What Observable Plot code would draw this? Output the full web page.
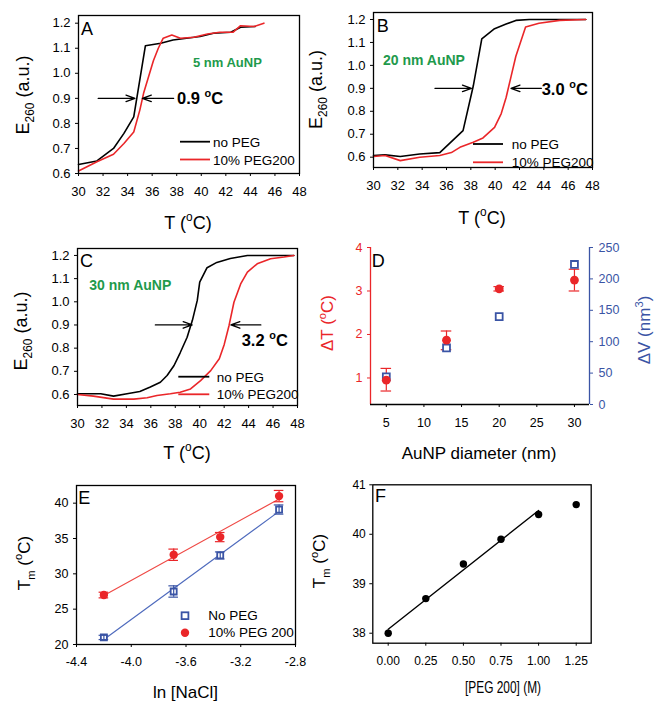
<!DOCTYPE html>
<html><head><meta charset="utf-8">
<script src="https://cdn.jsdelivr.net/npm/d3@7"></script>
<script src="https://cdn.jsdelivr.net/npm/@observablehq/plot@0.6"></script>
<style>
body{margin:0;background:#fff;}
#fig{position:relative;width:654px;height:702px;background:#fff;overflow:hidden;}
#fig svg{position:absolute;left:0;top:0;}
</style></head><body><div id="fig"></div>
<script>
// ---------- data ----------
const tTicks = [30,32,34,36,38,40,42,44,46,48];
const eTicks = [0.6,0.7,0.8,0.9,1.0,1.1,1.2];

const A_T_noPEG = [30, 31.5, 32.85, 33.7, 34.5, 35.45, 36.7, 37.7, 38.8, 39.9, 41, 42.4, 43.2, 44.4];
const A_E_noPEG = [0.636, 0.65, 0.70, 0.76, 0.826, 1.11, 1.12, 1.133, 1.14, 1.147, 1.16, 1.164, 1.184, 1.187];
const A_T_PEG = [30, 31.5, 32.85, 33.7, 34.5, 35.0, 35.3, 35.7, 36.1, 36.5, 36.9, 37.6, 38.3, 39.4, 40.5, 41.5, 42.6, 43.2, 44.3, 45.1];
const A_E_PEG = [0.61, 0.647, 0.677, 0.72, 0.766, 0.854, 0.92, 0.985, 1.05, 1.10, 1.14, 1.153, 1.14, 1.144, 1.157, 1.164, 1.164, 1.19, 1.187, 1.2];

const B_T_noPEG = [30, 30.95, 32.2, 33.8, 35.45, 37.36, 38.2, 38.9, 39.95, 40.9, 41.7, 42.8, 47.45];
const B_E_noPEG = [0.607, 0.61, 0.603, 0.614, 0.62, 0.716, 0.91, 1.116, 1.16, 1.18, 1.196, 1.2, 1.2];
const B_T_PEG = [30, 30.95, 32.2, 33.8, 35.45, 36.4, 37.1, 38.2, 39, 39.95, 40.5, 40.9, 41.3, 41.7, 42.5, 43.6, 45.3, 47.45];
const B_E_PEG = [0.603, 0.607, 0.585, 0.6, 0.607, 0.62, 0.643, 0.665, 0.684, 0.73, 0.79, 0.86, 0.95, 1.04, 1.167, 1.184, 1.196, 1.2];

const C_T_noPEG = [30, 31.3, 31.9, 32.95, 34.05, 35.1, 35.96, 36.78, 37.33, 37.9, 38.4, 38.97, 39.4, 39.8, 40.0, 40.6, 41.4, 42.5, 43.9, 47.7];
const C_E_noPEG = [0.603, 0.603, 0.603, 0.593, 0.603, 0.613, 0.632, 0.653, 0.682, 0.725, 0.78, 0.847, 0.92, 1.006, 1.085, 1.147, 1.17, 1.187, 1.2, 1.2];
const C_T_PEG = [30, 31.3, 32.95, 34.6, 35.7, 36.5, 37.6, 38.4, 39.25, 40.07, 40.9, 41.6, 42.0, 42.4, 42.8, 43.35, 43.9, 44.7, 45.8, 46.9, 47.7];
const C_E_PEG = [0.6, 0.593, 0.58, 0.58, 0.586, 0.596, 0.603, 0.61, 0.624, 0.66, 0.703, 0.754, 0.815, 0.898, 0.998, 1.077, 1.128, 1.164, 1.186, 1.193, 1.2];

// arrows (data coordinates): [from, to] at E = 0.9
const A_arrows = [[31.6, 34.6], [37.75, 35.2]];
const B_arrows = [[35.05, 38.05], [43.8, 41.3]];
const C_arrows = [[36.37, 39.38], [45.0, 42.55]];
const arrowE = 0.9;

// D
const D_diam = [5, 13, 20, 30];
const D_dT = [0.95, 1.87, 3.05, 3.25];
const D_dT_lo = [0.7, 1.65, 3.0, 3.0];
const D_dT_hi = [1.22, 2.08, 3.1, 3.5];
const D_dV = [44, 90, 140, 223];
const D_xTicks = [5,10,15,20,25,30];
const D_yTicks = [1,2,3,4];
const D_vTicks = [0,50,100,150,200,250];

// E
const E_lnNaCl = [-4.2, -3.69, -3.35, -2.92];
const E_noPEG = [21.0, 27.5, 32.6, 39.1];
const E_noPEG_err = [0.3, 0.8, 0.5, 0.65];
const E_PEG = [27.0, 32.7, 35.2, 41.0];
const E_PEG_err = [0.4, 0.8, 0.65, 0.8];
const E_xTicks = [-4.4, -4.0, -3.6, -3.2, -2.8];
const E_yTicks = [20,25,30,35,40];

// F
const F_peg = [0, 0.25, 0.5, 0.75, 1.0, 1.25];
const F_Tm = [38.0, 38.7, 39.4, 39.9, 40.4, 40.6];
const F_fitCount = 5;
const F_xTicks = [0, 0.25, 0.5, 0.75, 1.0, 1.25];
const F_yTicks = [38,39,40,41];

// ---------- helpers ----------
const W = 654, H = 702;
const FONT = '"Liberation Sans", Arial, Helvetica, sans-serif';
const RED = "#ea2629", BLUE = "#3a54a5", GREEN = "#1f9a4c", BLACK = "#000";
const fig = document.getElementById("fig");

const rows = (xs, ys) => xs.map((x, i) => ({x, y: ys[i]}));

function panel(frame, x, y, marks, fontSize) {
  const [x0, x1, y0, y1] = frame;
  const svg = Plot.plot({
    width: W, height: H,
    marginLeft: x0, marginRight: W - x1, marginTop: y0, marginBottom: H - y1,
    style: {background: "transparent", fontFamily: FONT, fontSize: fontSize + "px", color: "#000", overflow: "visible"},
    x: {...x, label: null}, y: {...y, label: null},
    marks
  });
  fig.appendChild(svg);
  return svg;
}

function txt(svg, x, y, parts, o = {}) {
  const s = o.size || 13;
  const t = d3.select(svg).append("text")
    .attr("font-family", FONT).attr("font-size", s)
    .attr("fill", o.fill || "#000").attr("text-anchor", o.anchor || "start")
    .attr("font-weight", o.weight || "normal");
  if (o.rotate) t.attr("transform", `translate(${x},${y}) rotate(-90)`);
  else t.attr("x", x).attr("y", y);
  if (o.textLength) t.attr("textLength", o.textLength).attr("lengthAdjust", "spacingAndGlyphs");
  let shift = 0;
  for (const p of parts) {
    const [str, kind] = Array.isArray(p) ? p : [p, "n"];
    const target = kind === "sub" ? 0.3 * s : kind === "sup" ? -0.42 * s : 0;
    const sp = t.append("tspan").text(str);
    if (target - shift !== 0) sp.attr("dy", target - shift);
    if (kind !== "n") sp.attr("font-size", s * 0.66);
    shift = target;
  }
  return t;
}
function hline(svg, x1, x2, y, color, w = 1.8) {
  d3.select(svg).append("line").attr("x1", x1).attr("x2", x2).attr("y1", y).attr("y2", y)
    .attr("stroke", color).attr("stroke-width", w);
}

const degC = ["T (", ["o", "sup"], "C)"];
const e260 = ["E", ["260", "sub"], " (a.u.)"];

function meltPanel(frame, yDomain, noT, noE, pegT, pegE, arrows) {
  const arr = arrows.map(([a, b]) => ({x1: a, x2: b, y: arrowE}));
  return panel(frame, {domain: [30, 48]}, {domain: yDomain}, [
    Plot.axisX({ticks: tTicks, tickSize: 3, tickPadding: 10, tickFormat: d => String(d)}),
    Plot.axisY({ticks: eTicks, tickSize: 3, tickPadding: 5, tickFormat: d => d.toFixed(1)}),
    Plot.line(rows(noT, noE), {x: "x", y: "y", stroke: BLACK, strokeWidth: 1.6}),
    Plot.line(rows(pegT, pegE), {x: "x", y: "y", stroke: RED, strokeWidth: 1.6}),
    Plot.arrow(arr, {x1: "x1", x2: "x2", y1: "y", y2: "y", stroke: BLACK, strokeWidth: 1.3, headLength: 11, headAngle: 40}),
    Plot.frame({stroke: BLACK, strokeWidth: 1.3})
  ], 13);
}

// ---------- Panel A ----------
const svgA = meltPanel([78, 299, 15, 173], [0.6, 1.2307], A_T_noPEG, A_E_noPEG, A_T_PEG, A_E_PEG, A_arrows);
txt(svgA, 81, 35, ["A"], {size: 18});
txt(svgA, 193, 66.7, ["5 nm AuNP"], {size: 13, weight: "bold", fill: GREEN});
txt(svgA, 177, 104, ["0.9 ", ["o", "sup"], "C"], {size: 16.5, weight: "bold"});
hline(svgA, 180, 210, 141.7, BLACK);
txt(svgA, 213, 146.5, ["no PEG"], {size: 13.5});
hline(svgA, 180, 210, 159.5, RED);
txt(svgA, 213, 164.5, ["10% PEG200"], {size: 13.5});
txt(svgA, 188, 229, degC, {size: 18, anchor: "middle"});
txt(svgA, 28.5, 95, e260, {size: 18, anchor: "middle", rotate: true});

// ---------- Panel B ----------
const svgB = meltPanel([373, 592, 12, 167], [0.555, 1.2305], B_T_noPEG, B_E_noPEG, B_T_PEG, B_E_PEG, B_arrows);
txt(svgB, 376.7, 32.3, ["B"], {size: 18});
txt(svgB, 383, 65, ["20 nm AuNP"], {size: 14, weight: "bold", fill: GREEN});
txt(svgB, 541.7, 95, ["3.0 ", ["o", "sup"], "C"], {size: 16.5, weight: "bold"});
hline(svgB, 473, 503, 144, BLACK);
txt(svgB, 511.7, 149, ["no PEG"], {size: 13.5});
hline(svgB, 473, 503, 162.3, RED);
txt(svgB, 511.7, 167.3, ["10% PEG200"], {size: 13.5});
txt(svgB, 482, 224, degC, {size: 18, anchor: "middle"});
txt(svgB, 321.5, 89.5, e260, {size: 18, anchor: "middle", rotate: true});

// ---------- Panel C ----------
const svgC = meltPanel([77, 297, 248, 405], [0.5525, 1.230], C_T_noPEG, C_E_noPEG, C_T_PEG, C_E_PEG, C_arrows);
txt(svgC, 80, 266.7, ["C"], {size: 18});
txt(svgC, 89.3, 290, ["30 nm AuNP"], {size: 14, weight: "bold", fill: GREEN});
txt(svgC, 241.7, 345.7, ["3.2 ", ["o", "sup"], "C"], {size: 16.5, weight: "bold"});
hline(svgC, 178.3, 209.3, 376.7, BLACK);
txt(svgC, 216.7, 381.7, ["no PEG"], {size: 13.5});
hline(svgC, 178.3, 209.3, 394.3, RED);
txt(svgC, 216.7, 399.3, ["10% PEG200"], {size: 13.5});
txt(svgC, 187, 459, degC, {size: 18, anchor: "middle"});
txt(svgC, 27, 331, e260, {size: 18, anchor: "middle", rotate: true});

// ---------- Panel D ----------
const D_xDom = [2.9, 32], D_yDom = [0.39, 4.0], D_vDom = [0, 250];
const vToT = v => D_yDom[0] + (v - D_vDom[0]) * (D_yDom[1] - D_yDom[0]) / (D_vDom[1] - D_vDom[0]);
const dRows = D_diam.map((d, i) => ({d, t: D_dT[i], lo: D_dT_lo[i], hi: D_dT_hi[i], v: D_dV[i]}));
const capD = 0.7;
const svgD = panel([370, 589, 247, 404], {domain: D_xDom}, {domain: D_yDom}, [
  Plot.ruleX([D_xDom[0]], {stroke: RED, strokeWidth: 1.3}),
  Plot.ruleX([D_xDom[1]], {stroke: BLUE, strokeWidth: 1.3}),
  Plot.ruleY([D_yDom[0]], {stroke: BLACK, strokeWidth: 1.3}),
  Plot.axisX({ticks: D_xTicks, tickSize: 3, tickPadding: 11, tickFormat: d => String(d)}),
  Plot.axisY({ticks: D_yTicks, tickSize: 3, tickPadding: 5, color: RED, tickFormat: d => String(d)}),
  Plot.axisY(D_vTicks, {anchor: "right", y: v => vToT(v), tickFormat: v => String(v), color: BLUE, tickSize: 3, tickPadding: 6}),
  Plot.ruleX(dRows, {x: "d", y1: "lo", y2: "hi", stroke: RED, strokeWidth: 1.2}),
  Plot.ruleY(dRows, {y: "lo", x1: r => r.d - capD, x2: r => r.d + capD, stroke: RED, strokeWidth: 1.2}),
  Plot.ruleY(dRows, {y: "hi", x1: r => r.d - capD, x2: r => r.d + capD, stroke: RED, strokeWidth: 1.2}),
  Plot.dot(dRows, {x: "d", y: r => vToT(r.v), symbol: "square", r: 3.9, stroke: BLUE, fill: "white", strokeWidth: 1.8}),
  Plot.dot(dRows, {x: "d", y: "t", r: 4.4, fill: RED, stroke: null})
], 12.5);
txt(svgD, 371.7, 266.7, ["D"], {size: 18});
txt(svgD, 479, 459, ["AuNP diameter (nm)"], {size: 17, anchor: "middle"});
txt(svgD, 333, 323, ["\u0394T (", ["o", "sup"], "C)"], {size: 17, anchor: "middle", rotate: true, fill: RED});
txt(svgD, 650, 330, ["\u0394V (nm", ["3", "sup"], ")"], {size: 17, anchor: "middle", rotate: true, fill: BLUE});

// ---------- Panel E ----------
const eRows = E_lnNaCl.map((x, i) => ({x, a: E_noPEG[i], ae: E_noPEG_err[i], b: E_PEG[i], be: E_PEG_err[i]}));
const capE = 0.035;
const errMarks = (key, ekey, color) => [
  Plot.ruleX(eRows, {x: "x", y1: r => r[key] - r[ekey], y2: r => r[key] + r[ekey], stroke: color, strokeWidth: 1.2}),
  Plot.ruleY(eRows, {y: r => r[key] - r[ekey], x1: r => r.x - capE, x2: r => r.x + capE, stroke: color, strokeWidth: 1.2}),
  Plot.ruleY(eRows, {y: r => r[key] + r[ekey], x1: r => r.x - capE, x2: r => r.x + capE, stroke: color, strokeWidth: 1.2})
];
const svgE = panel([76, 295, 485, 644], {domain: [-4.4, -2.8]}, {domain: [20, 42.5]}, [
  Plot.axisX({ticks: E_xTicks, tickSize: 3, tickPadding: 10, tickFormat: d => d.toFixed(1)}),
  Plot.axisY({ticks: E_yTicks, tickSize: 3, tickPadding: 5, tickFormat: d => String(d)}),
  Plot.linearRegressionY(eRows, {x: "x", y: "a", stroke: "#4f6bbd", strokeWidth: 1.2, ci: 0}),
  Plot.linearRegressionY(eRows, {x: "x", y: "b", stroke: "#ef4a46", strokeWidth: 1.2, ci: 0}),
  Plot.dot(eRows, {x: "x", y: "a", symbol: "square", r: 3.4, stroke: BLUE, fill: "white", strokeWidth: 1.8}),
  ...errMarks("a", "ae", BLUE),
  ...errMarks("b", "be", RED),
  Plot.dot(eRows, {x: "x", y: "b", r: 4.2, fill: RED, stroke: null}),
  Plot.frame({stroke: BLACK, strokeWidth: 1.3})
], 12.5);
txt(svgE, 78.3, 504, ["E"], {size: 18});
d3.select(svgE).append("rect").attr("x", 181.6).attr("y", 612.3).attr("width", 6.8).attr("height", 6.8)
  .attr("fill", "white").attr("stroke", BLUE).attr("stroke-width", 1.8);
d3.select(svgE).append("circle").attr("cx", 185).attr("cy", 632.7).attr("r", 4.2).attr("fill", RED);
txt(svgE, 208.3, 620, ["No PEG"], {size: 13.5});
txt(svgE, 208.3, 636.7, ["10% PEG 200"], {size: 13.5});
txt(svgE, 185.5, 698, ["ln [NaCl]"], {size: 17, anchor: "middle"});
txt(svgE, 29.5, 563, ["T", ["m", "sub"], " (", ["o", "sup"], "C)"], {size: 17, anchor: "middle", rotate: true});

// ---------- Panel F ----------
const fRows = F_peg.map((x, i) => ({x, y: F_Tm[i]}));
const svgF = panel([372.3, 590.7, 484.3, 642.7], {domain: [-0.1024, 1.3497]}, {domain: [37.798, 41]}, [
  Plot.axisX({ticks: F_xTicks, tickSize: 3, tickPadding: 10, tickFormat: d => d.toFixed(2)}),
  Plot.axisY({ticks: F_yTicks, tickSize: 3, tickPadding: 4, tickFormat: d => String(d)}),
  Plot.linearRegressionY(fRows.slice(0, F_fitCount), {x: "x", y: "y", stroke: BLACK, strokeWidth: 1.4, ci: 0}),
  Plot.dot(fRows, {x: "x", y: "y", r: 3.7, fill: BLACK, stroke: null}),
  Plot.frame({stroke: BLACK, strokeWidth: 1.3})
], 12);
txt(svgF, 375, 502.3, ["F"], {size: 18});
txt(svgF, 503, 692.5, ["[PEG 200] (M)"], {size: 16, anchor: "middle", textLength: 76});
txt(svgF, 325, 561, ["T", ["m", "sub"], " (", ["o", "sup"], "C)"], {size: 17, anchor: "middle", rotate: true});
</script></body></html>
